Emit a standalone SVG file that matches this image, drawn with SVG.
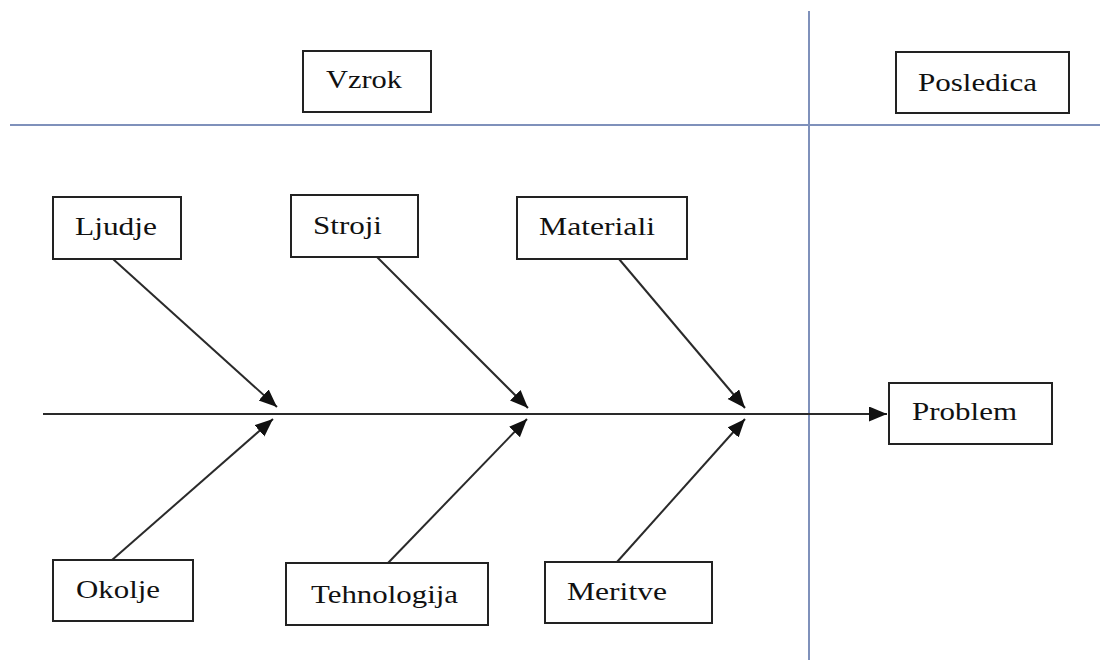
<svg xmlns="http://www.w3.org/2000/svg" width="1108" height="660" viewBox="0 0 1108 660">
  <defs>
    <marker id="arrow" markerUnits="userSpaceOnUse" markerWidth="20" markerHeight="16" refX="18" refY="7.5" orient="auto">
      <path d="M0,0 L18,7.5 L0,15 Z" fill="#111"/>
    </marker>
    <style>
      .box { fill: #fff; stroke: #222; stroke-width: 2; }
      .lbl { font-family: "Liberation Serif", "Times New Roman", serif; font-size: 26px; fill: #111; }
      .divider { stroke: #7f91bb; stroke-width: 2; fill: none; }
      .bone { stroke: #2a2a2a; stroke-width: 2; fill: none; marker-end: url(#arrow); }
    </style>
  </defs>
  <rect width="1108" height="660" fill="#fff"/>

  <!-- cause / effect dividers -->
  <g id="dividers">
    <line class="divider" x1="10" y1="125" x2="1100" y2="125"/>
    <line class="divider" x1="809" y1="11" x2="809" y2="660"/>
  </g>

  <!-- spine and bones -->
  <g id="connectors">
    <line class="bone" x1="43" y1="414" x2="887" y2="414"/>
    <line class="bone" x1="113" y1="259" x2="277" y2="407"/>
    <line class="bone" x1="377" y1="257" x2="528" y2="408"/>
    <line class="bone" x1="619" y1="259" x2="745" y2="408"/>
    <line class="bone" x1="112" y1="560" x2="273" y2="419"/>
    <line class="bone" x1="388" y1="563" x2="527" y2="419"/>
    <line class="bone" x1="617" y1="562" x2="745" y2="419"/>
  </g>

  <g id="vzrok">
    <rect class="box" x="303" y="51" width="128" height="61"/>
    <text class="lbl" x="326" y="88" textLength="76" lengthAdjust="spacingAndGlyphs">Vzrok</text>
  </g>
  <g id="posledica">
    <rect class="box" x="896" y="52" width="173" height="61"/>
    <text class="lbl" x="918" y="91" textLength="119" lengthAdjust="spacingAndGlyphs">Posledica</text>
  </g>
  <g id="ljudje">
    <rect class="box" x="53" y="197" width="128" height="62"/>
    <text class="lbl" x="75" y="235" textLength="82" lengthAdjust="spacingAndGlyphs">Ljudje</text>
  </g>
  <g id="stroji">
    <rect class="box" x="291" y="195" width="127" height="62"/>
    <text class="lbl" x="313" y="234" textLength="69" lengthAdjust="spacingAndGlyphs">Stroji</text>
  </g>
  <g id="materiali">
    <rect class="box" x="517" y="197" width="170" height="62"/>
    <text class="lbl" x="539" y="235" textLength="116" lengthAdjust="spacingAndGlyphs">Materiali</text>
  </g>
  <g id="problem">
    <rect class="box" x="889" y="383" width="163" height="61"/>
    <text class="lbl" x="912" y="420" textLength="105" lengthAdjust="spacingAndGlyphs">Problem</text>
  </g>
  <g id="okolje">
    <rect class="box" x="53" y="560" width="140" height="61"/>
    <text class="lbl" x="76" y="598" textLength="84" lengthAdjust="spacingAndGlyphs">Okolje</text>
  </g>
  <g id="tehnologija">
    <rect class="box" x="286" y="563" width="202" height="62"/>
    <text class="lbl" x="311" y="603" textLength="147" lengthAdjust="spacingAndGlyphs">Tehnologija</text>
  </g>
  <g id="meritve">
    <rect class="box" x="545" y="562" width="167" height="61"/>
    <text class="lbl" x="567" y="600" textLength="100" lengthAdjust="spacingAndGlyphs">Meritve</text>
  </g>
</svg>
